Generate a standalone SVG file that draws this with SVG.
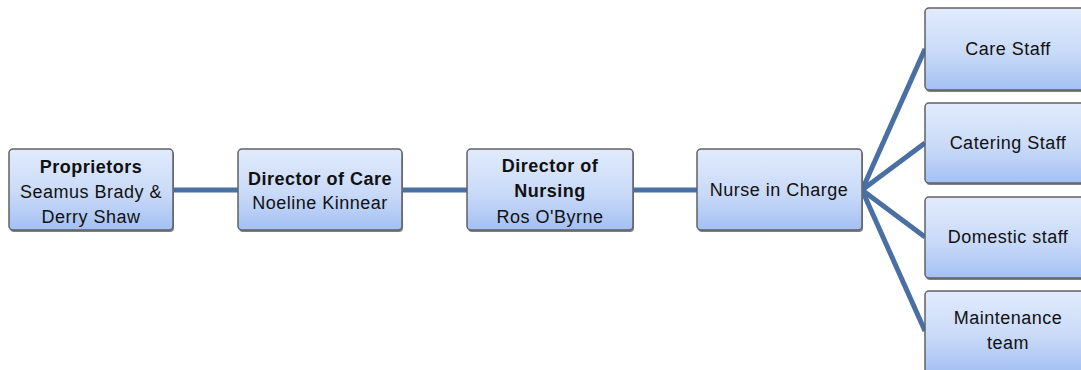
<svg xmlns="http://www.w3.org/2000/svg" width="1081" height="370" viewBox="0 0 1081 370">
  <defs>
    <linearGradient id="boxFill" x1="0" y1="0" x2="0" y2="1">
      <stop offset="0" stop-color="#e1ebfc"/>
      <stop offset="0.55" stop-color="#c9daf8"/>
      <stop offset="1" stop-color="#a3c0f3"/>
    </linearGradient>
  </defs>
  <style>
    .box { fill: url(#boxFill); stroke: #5f6166; stroke-width: 1.5; }
    .shadow { fill: #7d7f84; }
    .link { stroke: #4a6fa3; stroke-width: 5; fill: none; stroke-linecap: butt; }
    text { font-family: "Liberation Sans", Arial, sans-serif; font-size: 18px; letter-spacing: 0.5px; fill: #111; text-anchor: middle; }
    .b { font-weight: bold; }
  </style>

  <rect width="1081" height="370" fill="#ffffff"/>

  <g id="connectors">
    <line class="link" x1="173" y1="190" x2="238" y2="190"/>
    <line class="link" x1="402" y1="190" x2="467" y2="190"/>
    <line class="link" x1="633" y1="190" x2="697" y2="190"/>
    <line class="link" x1="862" y1="190" x2="925" y2="49"/>
    <line class="link" x1="862" y1="190" x2="925" y2="143"/>
    <line class="link" x1="862" y1="190" x2="925" y2="237"/>
    <line class="link" x1="862" y1="190" x2="925" y2="331"/>
  </g>

  <g id="proprietors">
    <rect class="shadow" x="10" y="151" width="164" height="81" rx="4"/>
    <rect class="box" x="9" y="149" width="164" height="81" rx="4"/>
    <text class="b" x="91" y="173">Proprietors</text>
    <text x="91" y="198">Seamus Brady &amp;</text>
    <text x="91" y="223">Derry Shaw</text>
  </g>

  <g id="director-of-care">
    <rect class="shadow" x="239" y="151" width="164" height="81" rx="4"/>
    <rect class="box" x="238" y="149" width="164" height="81" rx="4"/>
    <text class="b" x="320" y="185">Director of Care</text>
    <text x="320" y="209">Noeline Kinnear</text>
  </g>

  <g id="director-of-nursing">
    <rect class="shadow" x="468" y="151" width="166" height="81" rx="4"/>
    <rect class="box" x="467" y="149" width="166" height="81" rx="4"/>
    <text class="b" x="550" y="172">Director of</text>
    <text class="b" x="550" y="197">Nursing</text>
    <text x="550" y="223">Ros O'Byrne</text>
  </g>

  <g id="nurse-in-charge">
    <rect class="shadow" x="698" y="151" width="165" height="81" rx="4"/>
    <rect class="box" x="697" y="149" width="165" height="81" rx="4"/>
    <text x="779" y="196">Nurse in Charge</text>
  </g>

  <g id="care-staff">
    <rect class="shadow" x="926" y="10" width="166" height="82" rx="4"/>
    <rect class="box" x="925" y="8" width="166" height="82" rx="4"/>
    <text x="1008" y="55">Care Staff</text>
  </g>

  <g id="catering-staff">
    <rect class="shadow" x="926" y="105" width="166" height="80" rx="4"/>
    <rect class="box" x="925" y="103" width="166" height="80" rx="4"/>
    <text x="1008" y="149">Catering Staff</text>
  </g>

  <g id="domestic-staff">
    <rect class="shadow" x="926" y="199" width="166" height="81" rx="4"/>
    <rect class="box" x="925" y="197" width="166" height="81" rx="4"/>
    <text x="1008" y="243">Domestic staff</text>
  </g>

  <g id="maintenance-team">
    <rect class="shadow" x="926" y="293" width="166" height="82" rx="4"/>
    <rect class="box" x="925" y="291" width="166" height="82" rx="4"/>
    <text x="1008" y="324">Maintenance</text>
    <text x="1008" y="349">team</text>
  </g>
</svg>
